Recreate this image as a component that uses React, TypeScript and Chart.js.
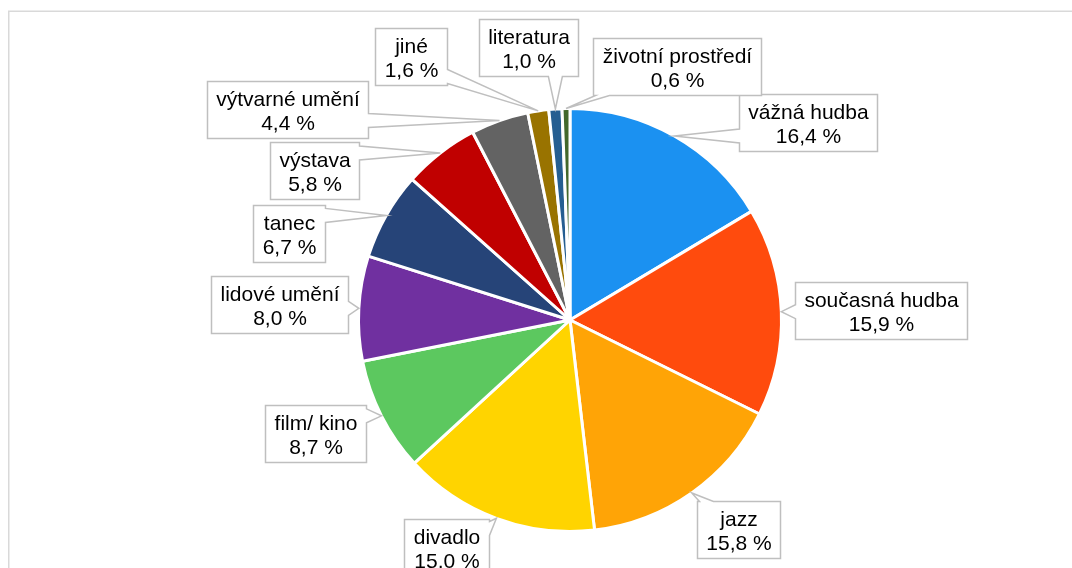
import React, { useEffect, useRef } from 'react';
import { Chart, registerables } from 'chart.js';

Chart.register(...registerables);

const categories = [
  'vážná hudba',
  'současná hudba',
  'jazz',
  'divadlo',
  'film/ kino',
  'lidové umění',
  'tanec',
  'výstava',
  'výtvarné umění',
  'jiné',
  'literatura',
  'životní prostředí',
];
const shares = [16.4, 15.9, 15.8, 15.0, 8.7, 8.0, 6.7, 5.8, 4.4, 1.6, 1.0, 0.6];
const sliceColors = [
  '#1b91f1', '#ff4b0d', '#ffa406', '#ffd400', '#5cc85f', '#7030a0',
  '#264478', '#c00000', '#636363', '#997300', '#255e91', '#43682b',
];

// callout layout: offset of each callout's centre from its slice's outer-edge midpoint
const labelOffsets: [number, number][] = [
  [133.5, -13.8], [100, -1.4], [47, 37], [-50, 29], [-66, 18], [-79, -3.5],
  [-97, 18.5], [-126, 17.6], [-212, -11], [-127, -54], [-27, -62], [111, -41.6],
];
const wedgeSideOverride: (string | null)[] = [
  null, null, null, null, null, null, null, null, null, null, null, 'bottom',
];

const FONT = '21px "Liberation Sans", Arial, sans-serif';

function fmt(v: number) {
  return v.toFixed(1).replace('.', ',') + ' %';
}

const calloutPlugin = {
  id: 'callouts',
  beforeDraw(chart: any) {
    const ctx = chart.ctx;
    ctx.save();
    ctx.strokeStyle = '#d9d9d9';
    ctx.lineWidth = 1.5;
    ctx.beginPath();
    ctx.moveTo(8.75, 568);
    ctx.lineTo(8.75, 11.25);
    ctx.lineTo(1072, 11.25);
    ctx.stroke();
    ctx.restore();
  },
  afterDraw(chart: any) {
    const ctx = chart.ctx;
    const meta = chart.getDatasetMeta(0);
    ctx.save();
    ctx.font = FONT;
    meta.data.forEach((arc: any, i: number) => {
      const p = arc.getProps(['x', 'y', 'startAngle', 'endAngle', 'outerRadius'], true);
      const mid = (p.startAngle + p.endAngle) / 2;
      const ax = p.x + Math.cos(mid) * p.outerRadius;
      const ay = p.y + Math.sin(mid) * p.outerRadius;
      const lines = [categories[i], fmt(shares[i])];
      const tw = Math.max(...lines.map((s) => ctx.measureText(s).width));
      const w = tw + 18;
      const h = 57;
      const cx = ax + labelOffsets[i][0];
      const cy = ay + labelOffsets[i][1];
      const l = Math.round(cx - w / 2) + 0.5;
      const r = Math.round(cx + w / 2) + 0.5;
      const t = Math.round(cy - h / 2) + 0.5;
      const b = t + h;
      let side = wedgeSideOverride[i];
      if (!side) {
        const dx = ax - Math.min(Math.max(ax, l), r);
        const dy = ay - Math.min(Math.max(ay, t), b);
        if (Math.abs(dx) >= Math.abs(dy)) side = dx > 0 ? 'right' : 'left';
        else side = dy > 0 ? 'bottom' : 'top';
      }
      const hw = 7;
      const m = 2;
      let c: number;
      if (side === 'left' || side === 'right') c = Math.min(Math.max(ay, t + m + hw), b - m - hw);
      else c = Math.min(Math.max(ax, l + m + hw), r - m - hw);
      ctx.beginPath();
      ctx.moveTo(l, t);
      if (side === 'top') { ctx.lineTo(c - hw, t); ctx.lineTo(ax, ay); ctx.lineTo(c + hw, t); }
      ctx.lineTo(r, t);
      if (side === 'right') { ctx.lineTo(r, c - hw); ctx.lineTo(ax, ay); ctx.lineTo(r, c + hw); }
      ctx.lineTo(r, b);
      if (side === 'bottom') { ctx.lineTo(c + hw, b); ctx.lineTo(ax, ay); ctx.lineTo(c - hw, b); }
      ctx.lineTo(l, b);
      if (side === 'left') { ctx.lineTo(l, c + hw); ctx.lineTo(ax, ay); ctx.lineTo(l, c - hw); }
      ctx.closePath();
      ctx.fillStyle = '#ffffff';
      ctx.fill();
      ctx.strokeStyle = '#bfbfbf';
      ctx.lineWidth = 1.5;
      ctx.lineJoin = 'miter';
      ctx.stroke();
      ctx.fillStyle = '#000000';
      ctx.textAlign = 'center';
      ctx.textBaseline = 'alphabetic';
      const mx = (l + r) / 2;
      ctx.fillText(lines[0], mx, t + 24);
      ctx.fillText(lines[1], mx, t + 48);
    });
    ctx.restore();
  },
};

export default function App() {
  const ref = useRef<HTMLCanvasElement | null>(null);
  useEffect(() => {
    if (!ref.current) return;
    const chart = new Chart(ref.current, {
      type: 'pie',
      data: {
        labels: categories,
        datasets: [
          {
            data: shares,
            backgroundColor: sliceColors,
            borderColor: '#ffffff',
            borderWidth: 3,
          },
        ],
      },
      options: {
        responsive: false,
        animation: false,
        devicePixelRatio: 1,
        layout: { padding: { top: 107, bottom: 35, left: 100, right: 32 } },
        plugins: {
          legend: { display: false },
          tooltip: { enabled: false },
        },
      },
      plugins: [calloutPlugin],
    });
    return () => chart.destroy();
  }, []);
  return (
    <div style={{ position: 'fixed', left: 0, top: 0, width: 1072, height: 568, background: '#fff' }}>
      <canvas ref={ref} width={1072} height={568} style={{ display: 'block' }} />
    </div>
  );
}
